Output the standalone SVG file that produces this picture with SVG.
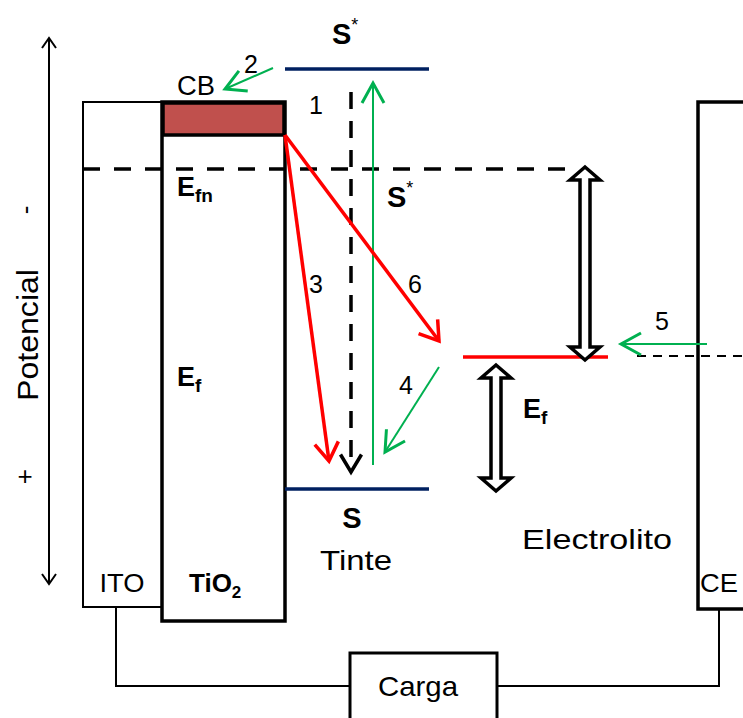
<svg xmlns="http://www.w3.org/2000/svg" width="743" height="718" viewBox="0 0 743 718">
<defs>
<style>
text{font-family:"Liberation Sans",Arial,sans-serif;fill:#000}
.b{font-weight:bold}
.n{font-size:25px}
.red{stroke:#ff0000;stroke-width:3.5;fill:none}
.grn{stroke:#00b050;stroke-width:2;fill:none}
.navy{stroke:#002060;stroke-width:3.5}
</style>
<marker id="ahr" markerWidth="8" markerHeight="8" refX="6" refY="4" orient="auto" markerUnits="strokeWidth"><path d="M0.8,0.6 L6,4 L0.8,7.4" fill="none" stroke="#ff0000" stroke-width="1"/></marker>
<marker id="ahg" markerWidth="14" markerHeight="14" refX="12" refY="7" orient="auto" markerUnits="strokeWidth"><path d="M2,1.5 L12,7 L2,12.5" fill="none" stroke="#00b050" stroke-width="1.5"/></marker>
<marker id="ahd" markerWidth="8" markerHeight="8" refX="6" refY="4" orient="auto" markerUnits="strokeWidth"><path d="M1,1 L6,4 L1,7" fill="none" stroke="#000" stroke-width="1"/></marker>
</defs>

<g id="axis">
<line x1="49" y1="38" x2="49" y2="584" stroke="#000" stroke-width="2"/>
<path d="M42,48 L49,38 L56,48" fill="none" stroke="#000" stroke-width="2"/>
<path d="M42,574 L49,584 L56,574" fill="none" stroke="#000" stroke-width="2"/>
<text transform="translate(38,335) rotate(-90)" font-size="30" text-anchor="middle" textLength="132" lengthAdjust="spacingAndGlyphs">Potencial</text>
<text transform="translate(34,210) rotate(-90)" font-size="26" text-anchor="middle">-</text>
<text x="25" y="485" font-size="26" text-anchor="middle">+</text>
</g>

<g id="ITO">
<rect x="83" y="102" width="79" height="505" fill="#fff" stroke="#000" stroke-width="2"/>
<text x="122" y="592" font-size="25" text-anchor="middle" textLength="45" lengthAdjust="spacingAndGlyphs">ITO</text>
</g>

<g id="TiO2">
<rect x="162" y="102" width="123" height="519" fill="#fff" stroke="#000" stroke-width="3.5"/>
<rect x="163" y="103" width="121" height="32" fill="#c0504d" stroke="#000" stroke-width="3.5"/>
<text x="189" y="592" font-size="26" class="b">TiO<tspan font-size="17" dy="6">2</tspan></text>
<text x="177" y="196" font-size="27" class="b">E<tspan font-size="19" dy="6">fn</tspan></text>
<text x="177" y="386" font-size="27" class="b">E<tspan font-size="19" dy="6">f</tspan></text>
<text x="177" y="95" font-size="27" textLength="38" lengthAdjust="spacingAndGlyphs">CB</text>
</g>

<g id="CE">
<path d="M746,102 L698,102 L698,609 L746,609" fill="#fff" stroke="#000" stroke-width="3.5"/>
<text x="700" y="592" font-size="25" textLength="38" lengthAdjust="spacingAndGlyphs">CE</text>
</g>

<g id="dye">
<line x1="285" y1="69" x2="429" y2="69" class="navy"/>
<line x1="285" y1="489" x2="429" y2="489" class="navy"/>
<text x="332" y="44" font-size="29" class="b">S<tspan font-size="18" dy="-13" font-weight="normal">*</tspan></text>
<text x="387" y="207" font-size="29" class="b">S<tspan font-size="18" dy="-13" font-weight="normal">*</tspan></text>
<text x="352" y="528" font-size="29" class="b" text-anchor="middle">S</text>
<text x="356" y="570" font-size="28" text-anchor="middle" textLength="72" lengthAdjust="spacingAndGlyphs">Tinte</text>
</g>

<g id="electrolyte">
<line x1="463" y1="357" x2="608" y2="357" stroke="#ff0000" stroke-width="3.5"/>
<text x="522" y="549" font-size="28" textLength="150" lengthAdjust="spacingAndGlyphs">Electrolito</text>
<text x="523" y="418" font-size="27" class="b">E<tspan font-size="19" dy="6">f</tspan></text>
</g>

<g id="Carga">
<rect x="350" y="653" width="147" height="70" fill="#fff" stroke="#000" stroke-width="3"/>
<text x="418" y="696" font-size="28" text-anchor="middle" textLength="80" lengthAdjust="spacingAndGlyphs">Carga</text>
</g>

<g id="connectors">
<polyline points="116,607 116,686 350,686" fill="none" stroke="#000" stroke-width="2"/>
<polyline points="497,686 719,686 719,609" fill="none" stroke="#000" stroke-width="2"/>
<line x1="83" y1="169" x2="572" y2="169" stroke="#000" stroke-width="3.5" stroke-dasharray="17,14"/>
<line x1="637" y1="356" x2="743" y2="356" stroke="#000" stroke-width="2" stroke-dasharray="9,7"/>
<line x1="351" y1="92" x2="351" y2="472" stroke="#000" stroke-width="3.5" stroke-dasharray="17,12" marker-end="url(#ahd)"/>
<line x1="373" y1="465" x2="373" y2="83" class="grn" marker-end="url(#ahg)"/>
<line x1="273" y1="68" x2="225" y2="89" class="grn" stroke-width="2.5" marker-end="url(#ahg)"/>
<line x1="439" y1="367" x2="385" y2="452" class="grn" marker-end="url(#ahg)"/>
<line x1="707" y1="344" x2="621" y2="344" class="grn" marker-end="url(#ahg)"/>
<line x1="285" y1="135" x2="329" y2="461" class="red" marker-end="url(#ahr)"/>
<line x1="285" y1="135" x2="439" y2="341" class="red" marker-end="url(#ahr)"/>
<path d="M585,167 L600,180 L590,180 L590,347 L600,347 L585,360 L570,347 L580,347 L580,180 L570,180 Z" fill="#fff" stroke="#000" stroke-width="3.5"/>
<path d="M496,365 L511,378 L501,378 L501,478 L511,478 L496,491 L481,478 L491,478 L491,378 L481,378 Z" fill="#fff" stroke="#000" stroke-width="3.5"/>
<text x="244" y="73" class="n">2</text>
<text x="309" y="114" class="n">1</text>
<text x="309" y="293" class="n">3</text>
<text x="408" y="293" class="n">6</text>
<text x="399" y="394" class="n">4</text>
<text x="655" y="330" class="n">5</text>
</g>
</svg>
